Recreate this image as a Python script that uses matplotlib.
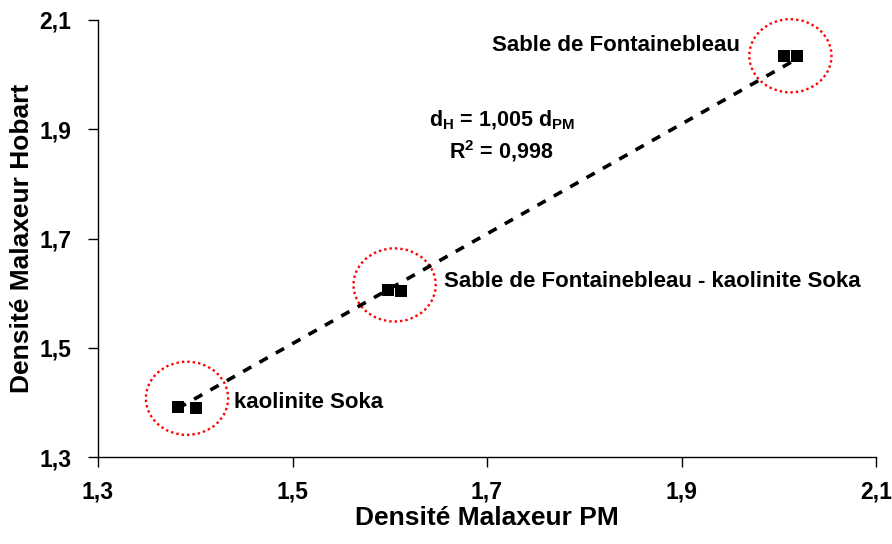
import matplotlib
matplotlib.use("Agg")
import matplotlib.pyplot as plt
from matplotlib.patches import Ellipse
from matplotlib.ticker import FixedLocator, FuncFormatter
import numpy as np

plt.rcParams['font.family'] = ['Liberation Sans', 'DejaVu Sans']
plt.rcParams['font.weight'] = 'bold'
plt.rcParams['mathtext.fontset'] = 'custom'
plt.rcParams['mathtext.rm'] = 'Liberation Sans:bold'
plt.rcParams['mathtext.bf'] = 'Liberation Sans:bold'
plt.rcParams['mathtext.default'] = 'bf'

# Densities measured with the two mixers, grouped by material
groups = ["kaolinite Soka", "Sable de Fontainebleau - kaolinite Soka", "Sable de Fontainebleau"]
d_pm = [[1.382, 1.401], [1.598, 1.612], [2.005, 2.019]]
d_hobart = [[1.391, 1.390], [1.606, 1.604], [2.035, 2.034]]
slope = 1.005
r2 = 0.998

xticks = [1.3, 1.5, 1.7, 1.9, 2.1]
yticks = [1.3, 1.5, 1.7, 1.9, 2.1]

fig = plt.figure(figsize=(8.92, 5.44), dpi=100)
ax = fig.add_axes([98 / 892, 1 - 457 / 544, (876 - 98) / 892, (457 - 20) / 544])

all_x = np.concatenate([np.array(v) for v in d_pm])
all_y = np.concatenate([np.array(v) for v in d_hobart])

ax.scatter(all_x, all_y, marker='s', s=85, color='black', zorder=3, linewidths=0, clip_on=False)

xl = np.array([all_x.min(), all_x.max()])
ax.plot(xl, slope * xl, linestyle=(0, (2.6, 2.6)), color='black', linewidth=2.6, zorder=2)

# group outlines and labels
ellipse_shift = [0.017, 0.010, 0.0]
label_offsets = [(0.0485, 0.010, 'left'), (0.051, 0.017, 'left'), (-0.052, 0.018, 'right')]
fs = 16
for gx, gy, name, sh, (dx, dy, ha) in zip(d_pm, d_hobart, groups, ellipse_shift, label_offsets):
    cx, cy = np.mean(gx), np.mean(gy)
    ax.add_patch(Ellipse((cx, cy + sh), 0.0845, 0.134, fill=False,
                         edgecolor='red', linestyle=(0, (1, 1.3)), linewidth=1.7,
                         zorder=1, clip_on=False))
    ax.text(cx + dx, cy + dy, name, fontsize=fs, fontweight='bold', ha=ha, va='center')

ax.text(1.715, 1.917, r"d$_\mathbf{H}$ = " + f"{slope:.3f}".replace('.', ',') + r" d$_\mathbf{PM}$",
        fontsize=15.5, fontweight='bold', ha='center', va='center')
ax.text(1.715, 1.860, r"R$^\mathbf{2}$ = " + f"{r2:.3f}".replace('.', ','),
        fontsize=15.5, fontweight='bold', ha='center', va='center')

ax.set_xlim(1.3, 2.1)
ax.set_ylim(1.3, 2.1)
ax.xaxis.set_major_locator(FixedLocator(xticks))
ax.yaxis.set_major_locator(FixedLocator(yticks))
fmt = FuncFormatter(lambda v, p: f"{v:.1f}".replace('.', ','))
ax.xaxis.set_major_formatter(fmt)
ax.yaxis.set_major_formatter(fmt)
ax.tick_params(direction='out', length=7, width=1, labelsize=16.5)
ax.tick_params(axis='x', pad=10)
ax.tick_params(axis='y', pad=12)
for lab in ax.get_xticklabels() + ax.get_yticklabels():
    lab.set_fontweight('bold')
for s in ['top', 'right']:
    ax.spines[s].set_visible(False)
for s in ['left', 'bottom']:
    ax.spines[s].set_linewidth(1)

ax.set_xlabel("Densité Malaxeur PM", fontsize=19, fontweight='bold', labelpad=2)
ax.set_ylabel("Densité Malaxeur Hobart", fontsize=19, fontweight='bold', labelpad=4)

fig.savefig("out.png", dpi=100)
